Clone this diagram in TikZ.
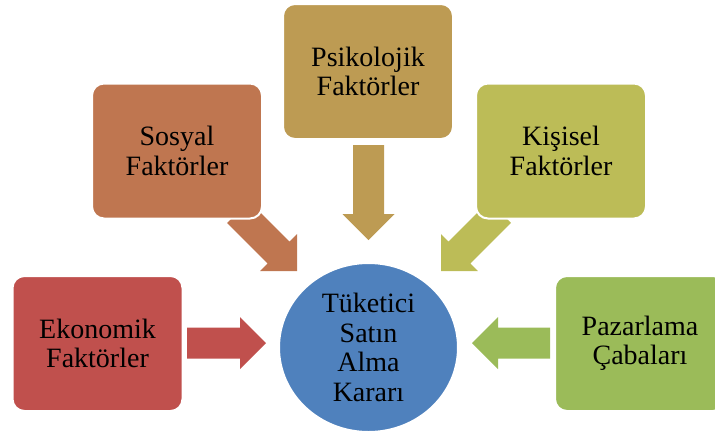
\documentclass[tikz,border=0pt]{standalone}
\usepackage{fontspec}
\setmainfont{Liberation Serif}
\usetikzlibrary{calc,shapes.geometric}

\definecolor{cEko}{HTML}{C0504D}
\definecolor{cSos}{HTML}{BF7650}
\definecolor{cPsi}{HTML}{BD9B53}
\definecolor{cKis}{HTML}{BCBC57}
\definecolor{cPaz}{HTML}{9BBB59}
\definecolor{cKarar}{HTML}{4F81BD}

% block arrow from tail #1 to tip #2, filled with colour #3
\newcommand{\blockarrow}[3]{%
  \coordinate (ba-h) at ($(#2)!26pt!(#1)$);
  \fill[#3] ($(#1)!15.5pt!90:(#2)$) -- ($(ba-h)!15.5pt!90:(#2)$)
    -- ($(ba-h)!26pt!90:(#2)$) -- (#2) -- ($(ba-h)!26pt!-90:(#2)$)
    -- ($(ba-h)!15.5pt!-90:(#2)$) -- ($(#1)!15.5pt!-90:(#2)$) -- cycle;
}

\tikzset{
  factor/.style={rectangle, rounded corners=12pt, draw=white, line width=2pt,
    minimum width=170pt, minimum height=135pt, inner sep=0pt, align=center,
    font=\fontsize{28}{29.5}\selectfont, text=black},
  decision/.style={ellipse, draw=white, line width=2pt, fill=cKarar,
    minimum width=179pt, minimum height=169pt, inner sep=0pt, align=center,
    font=\fontsize{28}{29.5}\selectfont, text=black},
}

\begin{document}
\begin{tikzpicture}[x=1pt, y=-1pt]
\useasboundingbox (0,0) rectangle (715,437);
\clip (0,0) rectangle (715,437);

% arrow end points
\coordinate (ekoS) at (187,343);   \coordinate (ekoT) at (266,343);
\coordinate (pazS) at (550,343);   \coordinate (pazT) at (472,343);
\coordinate (psiS) at (368.5,145); \coordinate (psiT) at (368.5,240);
\coordinate (sosS) at (238,212);   \coordinate (sosT) at (297,271);
\coordinate (kisS) at (500,212);   \coordinate (kisT) at (441,271);

% block arrows pointing at the decision
\blockarrow{ekoS}{ekoT}{cEko}
\blockarrow{pazS}{pazT}{cPaz}
\blockarrow{psiS}{psiT}{cPsi}
\blockarrow{sosS}{sosT}{cSos}
\blockarrow{kisS}{kisT}{cKis}

% factor boxes
\node[factor, fill=cEko] (eko) at (97.5,343.5) {Ekonomik\\Faktörler};
\node[factor, fill=cSos] (sos) at (177,151) {Sosyal\\Faktörler};
\node[factor, fill=cPsi] (psi) at (368,71.5) {Psikolojik\\Faktörler};
\node[factor, fill=cKis] (kis) at (561,151) {Kişisel\\Faktörler};
\node[factor, fill=cPaz] (paz) at (640,343.5) {Pazarlama\\Çabaları};

% central decision
\node[decision] (karar) at (368.5,347.5) {Tüketici\\Satın\\Alma\\Kararı};
\end{tikzpicture}
\end{document}
